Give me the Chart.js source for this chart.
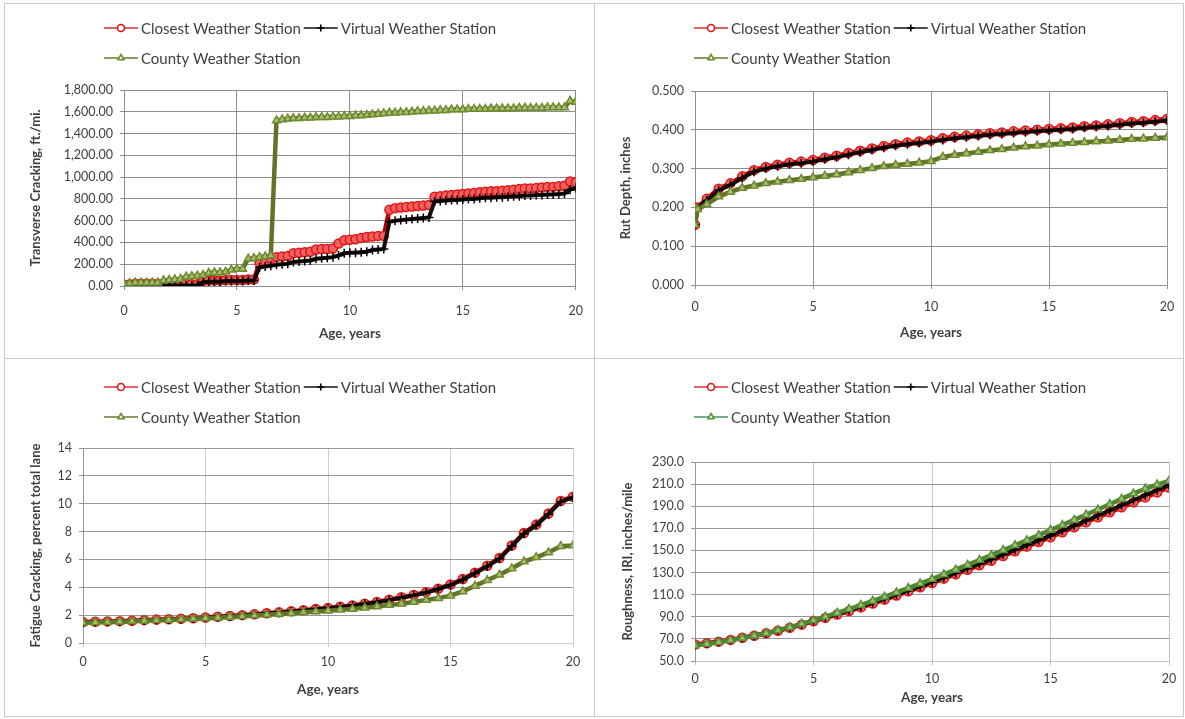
<!DOCTYPE html>
<html>
<head>
<meta charset="utf-8">
<title>Pavement distress by weather station</title>
<script src="https://cdn.jsdelivr.net/npm/chart.js@4.4.1/dist/chart.umd.min.js"></script>
<style>
  body { margin: 0; background: #fff; width: 1185px; height: 719px; position: relative; overflow: hidden; }
  .panel { position: absolute; border: 1px solid #c9c9c9; box-sizing: border-box; }
  .panel canvas { position: absolute; left: 0; top: 0; }
</style>
</head>
<body>
<div class="panel" style="left:4px;top:3px;width:591px;height:356px"><canvas id="tcChart" width="591" height="356"></canvas></div>
<div class="panel" style="left:594px;top:3px;width:590px;height:356px"><canvas id="rutChart" width="590" height="356"></canvas></div>
<div class="panel" style="left:4px;top:358px;width:591px;height:359px"><canvas id="fatChart" width="591" height="359"></canvas></div>
<div class="panel" style="left:594px;top:358px;width:590px;height:359px"><canvas id="iriChart" width="590" height="359"></canvas></div>
<script>
const stationNames = ["Closest Weather Station", "Virtual Weather Station", "County Weather Station"];
const ageTicks = [0, 5, 10, 15, 20];

// Transverse cracking, ft./mi. (quarterly)
const tcAges = [
  0, 0.25, 0.5, 0.75, 1, 1.25, 1.5, 1.75, 2, 2.25, 2.5, 2.75, 3, 3.25, 3.5, 3.75,
  4, 4.25, 4.5, 4.75, 5, 5.25, 5.5, 5.75, 6, 6.25, 6.5, 6.75, 7, 7.25, 7.5, 7.75,
  8, 8.25, 8.5, 8.75, 9, 9.25, 9.5, 9.75, 10, 10.25, 10.5, 10.75, 11, 11.25, 11.5, 11.75,
  12, 12.25, 12.5, 12.75, 13, 13.25, 13.5, 13.75, 14, 14.25, 14.5, 14.75, 15, 15.25, 15.5, 15.75,
  16, 16.25, 16.5, 16.75, 17, 17.25, 17.5, 17.75, 18, 18.25, 18.5, 18.75, 19, 19.25, 19.5, 19.75, 20
];
const tcClosest = [
  10, 15, 20, 20, 20, 20, 20, 20,
  15, 15, 15, 15, 15, 15, 45, 50,
  50, 50, 55, 55, 55, 55, 60, 60,
  215, 230, 250, 265, 270, 275, 300, 305,
  310, 315, 335, 340, 340, 345, 390, 420,
  425, 430, 440, 450, 455, 460, 460, 700,
  715, 720, 725, 730, 735, 740, 745, 820,
  825, 830, 835, 840, 845, 850, 855, 860,
  865, 870, 870, 875, 880, 885, 890, 895,
  895, 900, 905, 910, 910, 915, 920, 960,
  950
];
const tcVirtual = [
  0, 0, 0, 0, 0, 0, 0, 0,
  5, 5, 5, 5, 5, 5, 35, 40,
  40, 40, 45, 45, 45, 45, 50, 50,
  170, 180, 185, 195, 200, 205, 220, 225,
  230, 235, 250, 255, 260, 265, 280, 300,
  305, 305, 310, 315, 330, 335, 340, 590,
  600, 605, 610, 615, 620, 625, 630, 775,
  780, 785, 790, 790, 795, 800, 800, 805,
  810, 810, 815, 815, 820, 825, 825, 830,
  830, 835, 835, 840, 840, 845, 850, 885,
  900
];
const tcCounty = [
  20, 25, 30, 30, 30, 30, 30, 50,
  55, 60, 65, 85, 90, 95, 100, 120,
  125, 125, 130, 150, 155, 155, 250, 255,
  265, 270, 280, 1520, 1530, 1535, 1540, 1540,
  1545, 1545, 1550, 1550, 1550, 1555, 1555, 1560,
  1560, 1565, 1565, 1570, 1575, 1580, 1585, 1590,
  1590, 1595, 1595, 1600, 1605, 1605, 1610, 1610,
  1615, 1615, 1620, 1620, 1620, 1625, 1625, 1625,
  1625, 1630, 1630, 1630, 1630, 1630, 1635, 1635,
  1635, 1635, 1635, 1640, 1640, 1640, 1640, 1700,
  1690
];
const tcTicks = [0, 200, 400, 600, 800, 1000, 1200, 1400, 1600, 1800];

// Rut depth, inches
const rutAges = [
  0, 0.1, 0.5, 1, 1.5, 2, 2.5, 3, 3.5, 4, 4.5, 5, 5.5, 6, 6.5, 7, 7.5, 8, 8.5, 9, 9.5,
  10, 10.5, 11, 11.5, 12, 12.5, 13, 13.5, 14, 14.5, 15, 15.5, 16, 16.5, 17, 17.5, 18, 18.5, 19, 19.5, 20
];
const rutClosest = [
  0.155, 0.200, 0.222, 0.248, 0.262, 0.280, 0.296, 0.304, 0.310, 0.315, 0.318,
  0.322, 0.328, 0.333, 0.340, 0.346, 0.352, 0.358, 0.363, 0.367, 0.370,
  0.373, 0.378, 0.382, 0.385, 0.388, 0.391, 0.393, 0.396, 0.398, 0.400,
  0.402, 0.404, 0.406, 0.409, 0.411, 0.414, 0.417, 0.420, 0.422, 0.425, 0.428
];
const rutVirtual = [
  0.155, 0.198, 0.218, 0.244, 0.258, 0.276, 0.292, 0.300, 0.306, 0.311, 0.314,
  0.318, 0.324, 0.329, 0.336, 0.342, 0.348, 0.354, 0.359, 0.363, 0.366,
  0.369, 0.374, 0.378, 0.381, 0.384, 0.387, 0.389, 0.392, 0.394, 0.396,
  0.398, 0.400, 0.402, 0.405, 0.407, 0.410, 0.413, 0.416, 0.418, 0.421, 0.424
];
const rutCounty = [
  0.155, 0.195, 0.208, 0.228, 0.240, 0.250, 0.256, 0.262, 0.266, 0.270, 0.273,
  0.277, 0.281, 0.285, 0.290, 0.296, 0.301, 0.306, 0.309, 0.312, 0.315,
  0.319, 0.330, 0.335, 0.339, 0.343, 0.347, 0.350, 0.354, 0.357, 0.359,
  0.362, 0.364, 0.366, 0.368, 0.370, 0.372, 0.374, 0.376, 0.377, 0.379, 0.380
];
const rutTicks = [0, 0.1, 0.2, 0.3, 0.4, 0.5];

// Fatigue cracking, percent total lane (half-yearly)
const fatAges = [
  0, 0.5, 1, 1.5, 2, 2.5, 3, 3.5, 4, 4.5, 5, 5.5, 6, 6.5, 7, 7.5, 8, 8.5, 9, 9.5,
  10, 10.5, 11, 11.5, 12, 12.5, 13, 13.5, 14, 14.5, 15, 15.5, 16, 16.5, 17, 17.5, 18, 18.5, 19, 19.5, 20
];
const fatClosest = [
  1.50, 1.52, 1.55, 1.57, 1.60, 1.64, 1.68, 1.70, 1.74, 1.78,
  1.83, 1.88, 1.94, 2.00, 2.07, 2.13, 2.20, 2.28, 2.36, 2.44,
  2.52, 2.60, 2.70, 2.82, 2.95, 3.10, 3.28, 3.45, 3.65, 3.90,
  4.20, 4.60, 5.05, 5.55, 6.10, 7.00, 7.90, 8.50, 9.30, 10.20,
  10.50
];
const fatVirtual = [
  1.48, 1.50, 1.53, 1.55, 1.58, 1.62, 1.66, 1.68, 1.72, 1.76,
  1.81, 1.86, 1.92, 1.98, 2.05, 2.11, 2.18, 2.26, 2.34, 2.42,
  2.50, 2.58, 2.68, 2.80, 2.93, 3.08, 3.25, 3.42, 3.62, 3.88,
  4.15, 4.55, 5.00, 5.50, 6.05, 6.95, 7.85, 8.45, 9.25, 10.15,
  10.45
];
const fatCounty = [
  1.45, 1.48, 1.50, 1.53, 1.56, 1.60, 1.63, 1.66, 1.70, 1.74,
  1.78, 1.82, 1.87, 1.92, 1.97, 2.03, 2.08, 2.14, 2.20, 2.26,
  2.32, 2.38, 2.45, 2.53, 2.62, 2.72, 2.82, 2.95, 3.08, 3.22,
  3.40, 3.70, 4.10, 4.50, 4.90, 5.35, 5.85, 6.15, 6.50, 6.95,
  7.00
];
const fatTicks = [0, 2, 4, 6, 8, 10, 12, 14];

// Roughness (IRI), inches/mile (half-yearly)
const iriAges = fatAges;
const iriClosest = [
  65.0, 66.1, 67.5, 69.1, 71.0, 72.9, 75.0, 77.4, 80.0, 82.9,
  86.0, 89.0, 92.0, 95.2, 98.5, 102.0, 105.5, 109.2, 113.0, 116.7,
  120.5, 124.5, 128.5, 132.5, 136.5, 140.7, 145.0, 149.2, 153.5, 157.7,
  162.0, 166.5, 171.0, 175.5, 180.0, 184.5, 189.0, 193.5, 198.0, 202.5,
  207.0
];
const iriVirtual = [
  64.5, 65.8, 67.3, 69.0, 70.9, 72.9, 75.1, 77.6, 80.3, 83.2,
  86.3, 89.4, 92.5, 95.8, 99.2, 102.7, 106.3, 110.0, 113.8, 117.6,
  121.5, 125.5, 129.6, 133.7, 137.8, 142.0, 146.3, 150.6, 154.9, 159.2,
  163.5, 168.0, 172.5, 177.0, 181.6, 186.2, 190.8, 195.4, 200.0, 204.5,
  209.0
];
const iriCounty = [
  64.0, 65.4, 67.0, 68.8, 70.8, 72.9, 75.2, 77.8, 80.6, 83.6,
  86.8, 90.1, 93.5, 97.0, 100.6, 104.3, 108.1, 112.0, 116.0, 120.0,
  124.1, 128.3, 132.6, 136.9, 141.3, 145.7, 150.2, 154.7, 159.2, 163.8,
  168.4, 173.0, 177.6, 182.3, 187.0, 191.8, 196.6, 201.4, 205.8, 209.6,
  213.0
];
const iriTicks = [50, 70, 90, 110, 130, 150, 170, 190, 210, 230];

const TEXT = "#3f3f3f";
Chart.defaults.font.family = "Lato, 'Open Sans', sans-serif";
Chart.defaults.color = TEXT;

// legend drawn as line + marker + label, first two entries on one row, third below
const stationLegend = {
  id: "stationLegend",
  afterDraw(chart, args, opts) {
    const ctx = chart.ctx;
    const sets = chart.data.datasets;
    ctx.save();
    ctx.font = "15px Lato, 'Open Sans', sans-serif";
    ctx.textBaseline = "middle";
    const lineLen = 34, textGap = 3, itemGap = 3;
    const itemWidth = i => lineLen + textGap + ctx.measureText(sets[i].label).width;
    const first = opts.rows[0];
    const rowWidth = first.reduce((w, i) => w + itemWidth(i), 0) + itemGap * (first.length - 1);
    const startX = Math.round((chart.width - rowWidth) / 2);
    opts.rows.forEach((row, r) => {
      let x = startX;
      const y = opts.top + r * 30;
      row.forEach(i => {
        const ds = sets[i];
        ctx.strokeStyle = ds.legendLine;
        ctx.lineWidth = 1.6;
        ctx.beginPath();
        ctx.moveTo(x, y);
        ctx.lineTo(x + lineLen, y);
        ctx.stroke();
        ctx.fillStyle = ds.legendFill;
        ctx.strokeStyle = ds.pointBorderColor;
        Chart.helpers.drawPoint(ctx, { pointStyle: ds.pointStyle, radius: 3.5, borderWidth: 1, rotation: 0 }, x + lineLen / 2, y);
        ctx.fillStyle = TEXT;
        ctx.fillText(ds.label, x + lineLen + textGap, y + 1);
        x += itemWidth(i) + itemGap;
      });
    });
    ctx.restore();
  }
};

function series(ages, values) {
  return ages.map((a, i) => ({ x: a, y: values[i] }));
}

function buildChart(id, cfg) {
  const canvas = document.getElementById(id);
  const H = canvas.height, W = canvas.width;
  const p = cfg.plot;
  const yTicks = cfg.yTicks;
  const green = cfg.green;

  const datasets = [
    {
      label: stationNames[0],
      data: series(cfg.ages, cfg.closest),
      borderColor: "#c00000",
      legendLine: "#d83030",
      legendFill: "#ffffff",
      borderWidth: 4.5,
      pointStyle: "circle",
      pointRadius: 4.5,
      pointBorderWidth: 1.5,
      pointBorderColor: "#e01515",
      pointBackgroundColor: "#f06060",
      order: 2
    },
    {
      label: stationNames[1],
      data: series(cfg.ages, cfg.virtual),
      borderColor: "#1a0a0a",
      legendLine: "#101010",
      legendFill: "#000000",
      borderWidth: 4,
      pointStyle: "cross",
      pointRadius: 4.5,
      pointBorderWidth: 1.5,
      pointBorderColor: "#000000",
      pointBackgroundColor: "#000000",
      order: 1
    },
    {
      label: stationNames[2],
      data: series(cfg.ages, cfg.county),
      borderColor: green.line,
      legendLine: green.legend,
      legendFill: "#ffffff",
      borderWidth: 4.5,
      pointStyle: "triangle",
      pointRadius: 4.5,
      pointBorderWidth: 1.5,
      pointBorderColor: green.point,
      pointBackgroundColor: green.fill,
      order: 0
    }
  ];

  return new Chart(canvas, {
    type: "line",
    data: { datasets },
    plugins: [stationLegend],
    options: {
      responsive: false,
      animation: false,
      events: [],
      layout: { padding: { left: 0, top: p.top, right: W - p.right, bottom: 0 } },
      elements: { line: { tension: 0 } },
      plugins: {
        legend: { display: false },
        tooltip: { enabled: false },
        stationLegend: { rows: [[0, 1], [2]], top: cfg.legendTop }
      },
      scales: {
        x: {
          type: "linear",
          min: ageTicks[0],
          max: ageTicks[ageTicks.length - 1],
          afterBuildTicks: s => { s.ticks = ageTicks.map(v => ({ value: v })); },
          afterFit: s => { s.height = H - p.bottom; },
          grid: { color: cfg.xGrid, lineWidth: 1, tickLength: 4, drawTicks: true },
          border: { color: cfg.xGrid },
          ticks: { padding: cfg.xTickPad, maxRotation: 0, font: { size: 12.5 }, color: TEXT },
          title: {
            display: true,
            text: "Age, years",
            font: { size: 13.5, weight: "bold" },
            color: TEXT,
            padding: { top: 0, bottom: cfg.xTitlePad }
          }
        },
        y: {
          type: "linear",
          min: yTicks[0],
          max: yTicks[yTicks.length - 1],
          afterBuildTicks: s => { s.ticks = yTicks.map(v => ({ value: v })); },
          afterFit: s => { s.width = p.left; },
          grid: { color: cfg.yGrid, lineWidth: 1, tickLength: 4, drawTicks: true },
          border: { color: cfg.yGrid },
          ticks: { padding: 7, font: { size: 12.5 }, color: TEXT, callback: cfg.fmt },
          title: {
            display: true,
            text: cfg.yTitle,
            font: { size: 13, weight: "bold" },
            color: TEXT,
            padding: { top: cfg.yTitlePad, bottom: 0 }
          }
        }
      }
    }
  });
}

const olive = { line: "#5f7428", legend: "#66792e", point: "#6e8a2e", fill: "#a9bd72" };

buildChart("tcChart", {
  ages: tcAges, closest: tcClosest, virtual: tcVirtual, county: tcCounty, yTicks: tcTicks,
  yTitle: "Transverse Cracking, ft./mi.",
  fmt: v => v.toLocaleString("en-US", { minimumFractionDigits: 2, maximumFractionDigits: 2 }),
  plot: { left: 119, top: 86, right: 571, bottom: 282 },
  legendTop: 24, xTickPad: 13, xTitlePad: 18, yTitlePad: 23,
  xGrid: "#8d8d8d", yGrid: "#8d8d8d", green: olive
});

buildChart("rutChart", {
  ages: rutAges, closest: rutClosest, virtual: rutVirtual, county: rutCounty, yTicks: rutTicks,
  yTitle: "Rut Depth, inches",
  fmt: v => v.toFixed(3),
  plot: { left: 100, top: 87, right: 572, bottom: 281 },
  legendTop: 24, xTickPad: 10, xTitlePad: 19, yTitlePad: 23,
  xGrid: "#959595", yGrid: "#8d8d8d", green: olive
});

buildChart("fatChart", {
  ages: fatAges, closest: fatClosest, virtual: fatVirtual, county: fatCounty, yTicks: fatTicks,
  yTitle: "Fatigue Cracking, percent total lane",
  fmt: v => String(v),
  plot: { left: 78, top: 89, right: 568, bottom: 284 },
  legendTop: 28, xTickPad: 7, xTitlePad: 20, yTitlePad: 23,
  xGrid: "#cfcfcf", yGrid: "#979797", green: olive
});

buildChart("iriChart", {
  ages: iriAges, closest: iriClosest, virtual: iriVirtual, county: iriCounty, yTicks: iriTicks,
  yTitle: "Roughness, IRI, inches/mile",
  fmt: v => v.toFixed(1),
  plot: { left: 100, top: 103, right: 574, bottom: 302 },
  legendTop: 28, xTickPad: 6, xTitlePad: 12, yTitlePad: 25,
  xGrid: "#c4c4c4", yGrid: "#979797",
  green: { line: "#4d8532", legend: "#3f9a62", point: "#5a8f34", fill: "#9cc27a" }
});
</script>
</body>
</html>
